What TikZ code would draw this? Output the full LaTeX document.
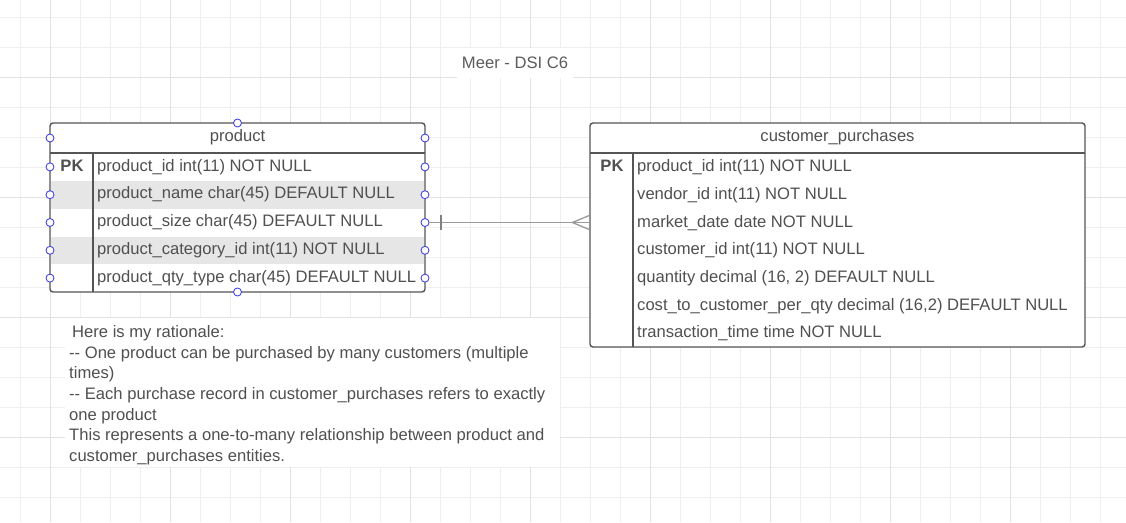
\documentclass[tikz,border=0pt]{standalone}
\usepackage{fontspec}
\setmainfont{Liberation Sans}
\usepackage{tikz}

\definecolor{txtgray}{HTML}{505050}
\definecolor{titlegray}{HTML}{5c5c5c}
\definecolor{bordergray}{HTML}{555555}
\definecolor{rowgray}{HTML}{E6E6E6}
\definecolor{gridlite}{HTML}{EFEFEF}
\definecolor{griddark}{HTML}{E2E2E2}
\definecolor{handleblue}{HTML}{4646E0}
\definecolor{relgray}{HTML}{9A9A9A}
\newcommand\erfont{\fontsize{16.6}{20.6}\selectfont}

\begin{document}
\begin{tikzpicture}[x=1pt, y=-1pt,
		grid_minor/.style={draw=gridlite, line width=0.8pt},
		grid_major/.style={draw=griddark, line width=0.8pt},
		table_style/.style={draw=bordergray, line width=1.4pt, rounded corners=3pt, fill=white, inner sep=0pt},
		line_style/.style={draw=bordergray, line width=1.2pt},
		head_style/.style={inner sep=0pt, text=txtgray, font=\erfont},
		field_style/.style={anchor=west, inner sep=0pt, text=txtgray, font=\erfont},
		pk_style/.style={inner sep=0pt, text=txtgray, font=\erfont\bfseries},
		handle_style/.style={circle, draw=handleblue, fill=white, line width=0.9pt, inner sep=0pt, minimum size=8pt},
		rel_style/.style={draw=relgray, line width=1.3pt}]
		
		\useasboundingbox (0,0) rectangle (1126,522);
		\fill[white] (0,0) rectangle (1126,522);
		
		% grid
		\foreach \gx in {20,50,...,1100} \draw[grid_minor] (\gx,0) -- (\gx,522);
		\foreach \gy in {17,47,...,497} \draw[grid_minor] (0,\gy) -- (1126,\gy);
		\foreach \gx in {50,170,...,1010} \draw[grid_major] (\gx,0) -- (\gx,522);
		\foreach \gy in {77,197,317,437} \draw[grid_major] (0,\gy) -- (1126,\gy);
		
		\node[fill=white, minimum width=116pt, minimum height=30pt, inner sep=0pt, text=titlegray, font=\erfont] (title) at (515,62.5) {Meer - DSI C6};
		
		% product
		\node[table_style, minimum width=375pt, minimum height=169pt] (prod) at (237.5,207.5) {};
		\fill[rowgray] (50.7,181) rectangle (424.3,208.8);
		\fill[rowgray] (50.7,236.6) rectangle (424.3,264.4);
		\draw[line_style] (50,153) -- (425,153);
		\draw[line_style] (93,153) -- (93,292);
		\node[head_style] (phead) at (237.5,137.5) {product};
		\node[pk_style] (ppk) at (72,166) {PK};
		\foreach \fname [count=\i] in {{product\_id int(11) NOT NULL},
				{product\_name char(45) DEFAULT NULL},
				{product\_size char(45) DEFAULT NULL},
				{product\_category\_id int(11) NOT NULL},
				{product\_qty\_type char(45) DEFAULT NULL}}
			\node[field_style] (p\i) at (97,{153+27.8*(\i-0.5)}) {\fname};
		
		% customer_purchases
		\node[table_style, minimum width=495pt, minimum height=224pt] (cpur) at (837.5,235) {};
		\draw[line_style] (590,153) -- (1085,153);
		\draw[line_style] (633,153) -- (633,347);
		\node[head_style] (chead) at (837.5,137.5) {customer\_purchases};
		\node[pk_style] (cpk) at (612,166) {PK};
		\foreach \fname [count=\i] in {{product\_id int(11) NOT NULL},
				{vendor\_id int(11) NOT NULL},
				{market\_date date NOT NULL},
				{customer\_id int(11) NOT NULL},
				{quantity decimal (16, 2) DEFAULT NULL},
				{cost\_to\_customer\_per\_qty decimal (16,2) DEFAULT NULL},
				{transaction\_time time NOT NULL}}
			\node[field_style] (c\i) at (637,{153+27.7*(\i-0.5)+0.5}) {\fname};
		
		% handles
		\node[handle_style] (ptop) at (237.5,123) {};
		\node[handle_style] (pbot) at (237.5,292) {};
		\node[handle_style] (pLh) at (50,138) {};
		\node[handle_style] (pRh) at (425,138) {};
		\foreach \i in {1,...,5} {
			\node[handle_style] (pL\i) at (50,{153+27.8*(\i-0.5)}) {};
			\node[handle_style] (pR\i) at (425,{153+27.8*(\i-0.5)}) {};
		}
		
		% relationship
		\coordinate (cin) at (cpur.west |- pR3);
		\draw[rel_style] (pR3) -- (cin);
		\draw[rel_style, draw=gray] ([xshift=16pt]pR3.center) ++(0,-7.5) -- ++(0,15);
		\draw[rel_style] ([xshift=-17pt]cin) -- ([yshift=7pt]cin);
		\draw[rel_style] ([xshift=-17pt]cin) -- ([yshift=-7pt]cin);
		
		\node[fill=white, anchor=north west, minimum width=495pt, minimum height=149pt, inner sep=0pt] (notebox) at (65,318) {};
		\node[anchor=north west, inner sep=0pt, align=left, text=txtgray, font=\erfont] (note) at ([shift={(4,7.5)}]notebox.north west) {\hspace*{3pt}Here is my rationale:\\
			-{}- One product can be purchased by many customers (multiple\\
			times)\\
			-{}- Each purchase record in customer\_purchases refers to exactly\\
			one product\\
			This represents a one-to-many relationship between product and\\
			customer\_purchases entities.};
		
\end{tikzpicture}
\end{document}
